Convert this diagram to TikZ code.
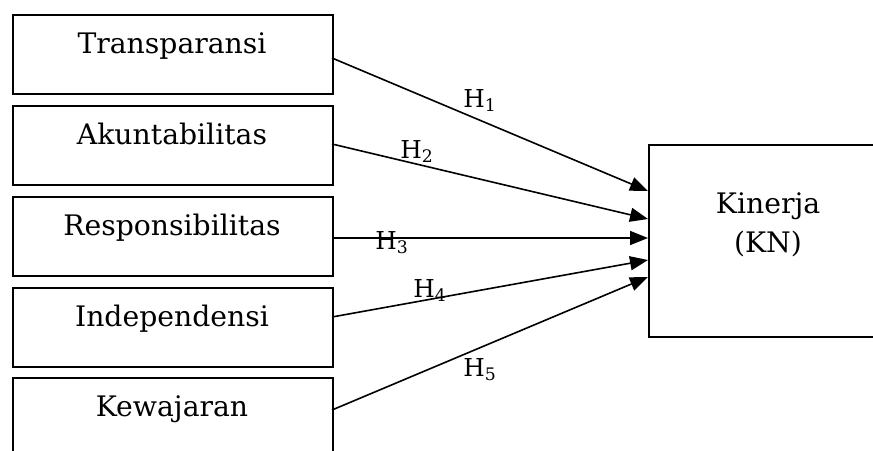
\documentclass[tikz,border=0pt]{standalone}
\usepackage{fontspec}
\setmainfont{DejaVu Serif}
\usetikzlibrary{arrows.meta}
\begin{document}
\begin{tikzpicture}[x=0.75pt,y=-0.75pt,
  box/.style={draw,line width=1.4pt,inner sep=0pt,anchor=north west,minimum width=240pt},
  lbl/.style={anchor=base,inner sep=0pt,font=\fontsize{21.2}{25}\selectfont},
  hyp/.style={anchor=base west,inner sep=0pt,font=\fontsize{18.5}{22}\selectfont},
  arr/.style={line width=1.2pt,-{Triangle[length=13.5pt,width=10.5pt]}}]
\useasboundingbox (0,0) rectangle (873,450);
\clip (0,0) rectangle (873,450);
\node[box,minimum height=59.25pt] (b1) at (12,14) {};
\node[box,minimum height=59.25pt] (b2) at (12,105) {};
\node[box,minimum height=59.25pt] (b3) at (12,196) {};
\node[box,minimum height=59.25pt] (b4) at (12,287) {};
\node[box,minimum height=75pt] (b5) at (12,377) {};
\node[box,minimum width=200pt,minimum height=144pt] (kn) at (648,144) {};
\node[lbl] (t1) at (172,53) {Transparansi};
\node[lbl] (t2) at (172,144) {Akuntabilitas};
\node[lbl] (t3) at (172,235) {Responsibilitas};
\node[lbl] (t4) at (172,326) {Independensi};
\node[lbl] (t5) at (172,416) {Kewajaran};
\node[lbl] (k1) at (768,213) {Kinerja};
\node[lbl] (k2) at (768,252) {(KN)};
\coordinate (s1) at (332,58);
\coordinate (s2) at (332,144);
\coordinate (s3) at (332,238);
\coordinate (s4) at (332,317);
\coordinate (s5) at (332,410);
\coordinate (e1) at (648,191);
\coordinate (e2) at (648,219);
\coordinate (e3) at (648,238);
\coordinate (e4) at (648,260);
\coordinate (e5) at (648,277);
\draw[arr] (s1) -- (e1);
\draw[arr] (s2) -- (e2);
\draw[arr] (s3) -- (e3);
\draw[arr] (s4) -- (e4);
\draw[arr] (s5) -- (e5);
\node[hyp] (h1) at (463,107) {H\textsubscript{1}};
\node[hyp] (h2) at (400,158) {H\textsubscript{2}};
\node[hyp] (h3) at (375,249) {H\textsubscript{3}};
\node[hyp] (h4) at (413,297) {H\textsubscript{4}};
\node[hyp] (h5) at (463,376) {H\textsubscript{5}};
\end{tikzpicture}
\end{document}
